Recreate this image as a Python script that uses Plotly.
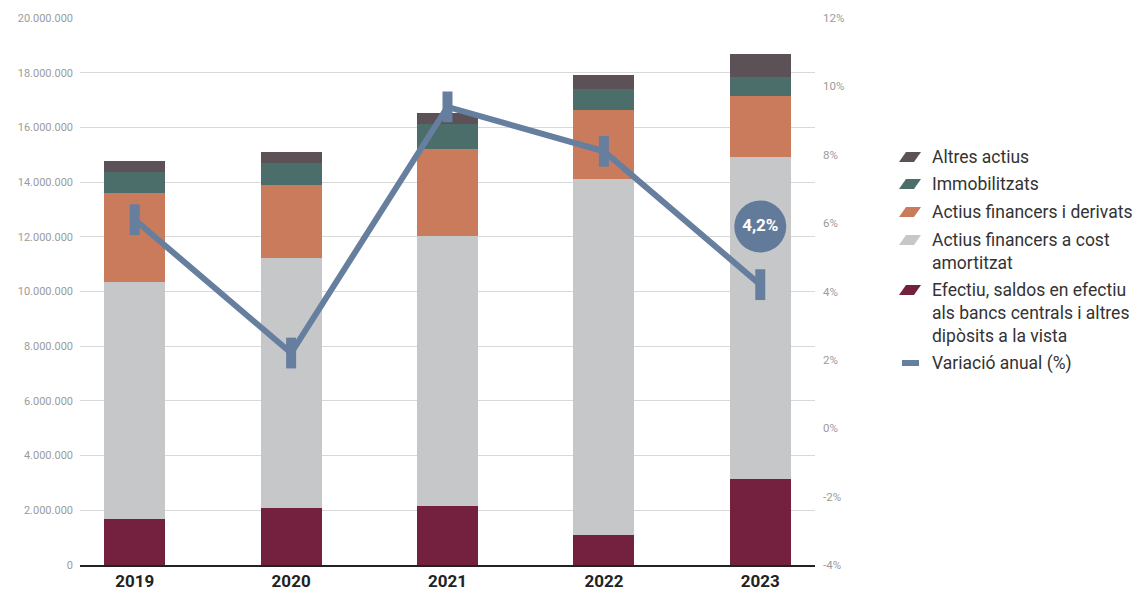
import plotly.graph_objects as go

# ---- data -------------------------------------------------------------
years = [2019, 2020, 2021, 2022, 2023]

efectiu = [1_680_000, 2_080_000, 2_160_000, 1_080_000, 3_130_000]
cost_amortitzat = [8_670_000, 9_140_000, 9_870_000, 13_020_000, 11_770_000]
derivats = [3_250_000, 2_670_000, 3_180_000, 2_520_000, 2_230_000]
immobilitzats = [770_000, 810_000, 910_000, 770_000, 730_000]
altres = [400_000, 400_000, 410_000, 540_000, 840_000]

variacio = [6.1, 2.2, 9.4, 8.1, 4.2]

left_ticks = [0, 2_000_000, 4_000_000, 6_000_000, 8_000_000, 10_000_000,
              12_000_000, 14_000_000, 16_000_000, 18_000_000, 20_000_000]
right_ticks = [-4, -2, 0, 2, 4, 6, 8, 10, 12]

# ---- styling ----------------------------------------------------------
FONT = "Roboto"
C_EFECTIU = "#74213f"
C_COST = "#c6c7c9"
C_DERIV = "#c97b5c"
C_IMMOB = "#4c6e6b"
C_ALTRES = "#5d5158"
C_LINE = "#667f9f"
C_BUBBLE = "#637b9b"
TICK_GREY = "#9b9b9b"
TEXT_DARK = "#333333"

W, H = 1142, 591
PL, PR, PT, PB = 80, 815, 18, 565   # plot area in pixels


def to_paper(px, py):
    return (px - PL) / (PR - PL), (PB - py) / (PB - PT)


series = [
    ("Efectiu, saldos en efectiu<br>als bancs centrals i altres<br>dipòsits a la vista", efectiu, C_EFECTIU),
    ("Actius financers a cost<br>amortitzat", cost_amortitzat, C_COST),
    ("Actius financers i derivats", derivats, C_DERIV),
    ("Immobilitzats", immobilitzats, C_IMMOB),
    ("Altres actius", altres, C_ALTRES),
]

fig = go.Figure()

for name, vals, color in series:
    fig.add_trace(go.Bar(
        x=years, y=vals, name=name, width=0.39,
        marker=dict(color=color, line=dict(width=0)),
        showlegend=False, hoverinfo="skip",
    ))

# annual variation line
fig.add_trace(go.Scatter(
    x=years, y=variacio, yaxis="y2", mode="lines+markers",
    name="Variació anual (%)",
    line=dict(color=C_LINE, width=6),
    marker=dict(symbol="line-ns", size=22, color=C_LINE,
                line=dict(width=10, color=C_LINE)),
    showlegend=False, hoverinfo="skip",
))

# value bubble for the latest year
BUBBLE_OFFSET = 1.7
last_label = f"{variacio[-1]:.1f}%".replace(".", ",")
fig.add_trace(go.Scatter(
    x=[years[-1]], y=[variacio[-1] + BUBBLE_OFFSET], yaxis="y2",
    mode="markers+text",
    marker=dict(size=52, color=C_BUBBLE, line=dict(width=0)),
    text=[f"<b>{last_label}</b>"], textposition="middle center",
    textfont=dict(family=FONT, size=17, color="white"),
    showlegend=False, hoverinfo="skip",
))

# ---- custom legend (parallelogram swatches) ---------------------------
legend_rows = [
    ("Altres actius", C_ALTRES, 157),
    ("Immobilitzats", C_IMMOB, 184),
    ("Actius financers i derivats", C_DERIV, 212),
    ("Actius financers a cost<br>amortitzat", C_COST, 240),
    ("Efectiu, saldos en efectiu<br>als bancs centrals i altres<br>dipòsits a la vista", C_EFECTIU, 290),
]
annotations = []
shapes = []
for label, color, py in legend_rows:
    corners = [to_paper(899, py + 5), to_paper(914, py + 5),
               to_paper(921, py - 5), to_paper(906, py - 5)]
    path = "M " + " L ".join(f"{cx:.5f},{cy:.5f}" for cx, cy in corners) + " Z"
    shapes.append(dict(type="path", xref="paper", yref="paper", path=path,
                       fillcolor=color, line=dict(width=0)))
    tx, ty = to_paper(930, py - 12)
    annotations.append(dict(
        xref="paper", yref="paper", x=tx, y=ty, xanchor="left", yanchor="top",
        align="left", text=label, showarrow=False,
        font=dict(family=FONT, size=17.5, color=TEXT_DARK),
    ))

tx, ty = to_paper(930, 363 - 12)
annotations.append(dict(
    xref="paper", yref="paper", x=tx, y=ty, xanchor="left", yanchor="top",
    align="left", text="Variació anual (%)", showarrow=False,
    font=dict(family=FONT, size=17.5, color=TEXT_DARK),
))
lx0, ly = to_paper(902, 363)
lx1, _ = to_paper(919, 363)
shapes.append(dict(type="line", xref="paper", yref="paper",
                   x0=lx0, x1=lx1, y0=ly, y1=ly,
                   line=dict(color=C_LINE, width=6)))

# ---- layout -----------------------------------------------------------
fig.update_layout(
    width=W, height=H,
    margin=dict(l=PL, r=W - PR, t=PT, b=H - PB),
    barmode="stack",
    separators=",.",
    plot_bgcolor="white", paper_bgcolor="white",
    font=dict(family=FONT, color=TEXT_DARK),
    showlegend=False,
    annotations=annotations,
    shapes=shapes,
    xaxis=dict(
        range=[years[0] - 0.35, years[-1] + 0.35],
        tickvals=years, ticktext=[f"<b>{y}</b>" for y in years],
        tickfont=dict(family=FONT, size=17, color="#222222"),
        showgrid=False, zeroline=False,
        showline=True, linecolor="#222222", linewidth=1.5,
        ticks="", ticklabelstandoff=0, automargin=False,
    ),
    yaxis=dict(
        range=[0, 20_000_000], tickvals=left_ticks, tickformat=",d",
        tickfont=dict(family=FONT, size=11, color=TICK_GREY),
        showgrid=True, gridcolor="#d9d9d9", gridwidth=1,
        zeroline=False, showline=False, ticks="",
        ticklabelstandoff=6, automargin=False,
    ),
    yaxis2=dict(
        overlaying="y", side="right",
        range=[-4, 12], tickvals=right_ticks,
        ticktext=[f"{v}%" for v in right_ticks],
        tickfont=dict(family=FONT, size=11.5, color=TICK_GREY),
        showgrid=False, zeroline=False, showline=False, ticks="",
        ticklabelstandoff=7, automargin=False,
    ),
)

fig.write_html("out.html")
